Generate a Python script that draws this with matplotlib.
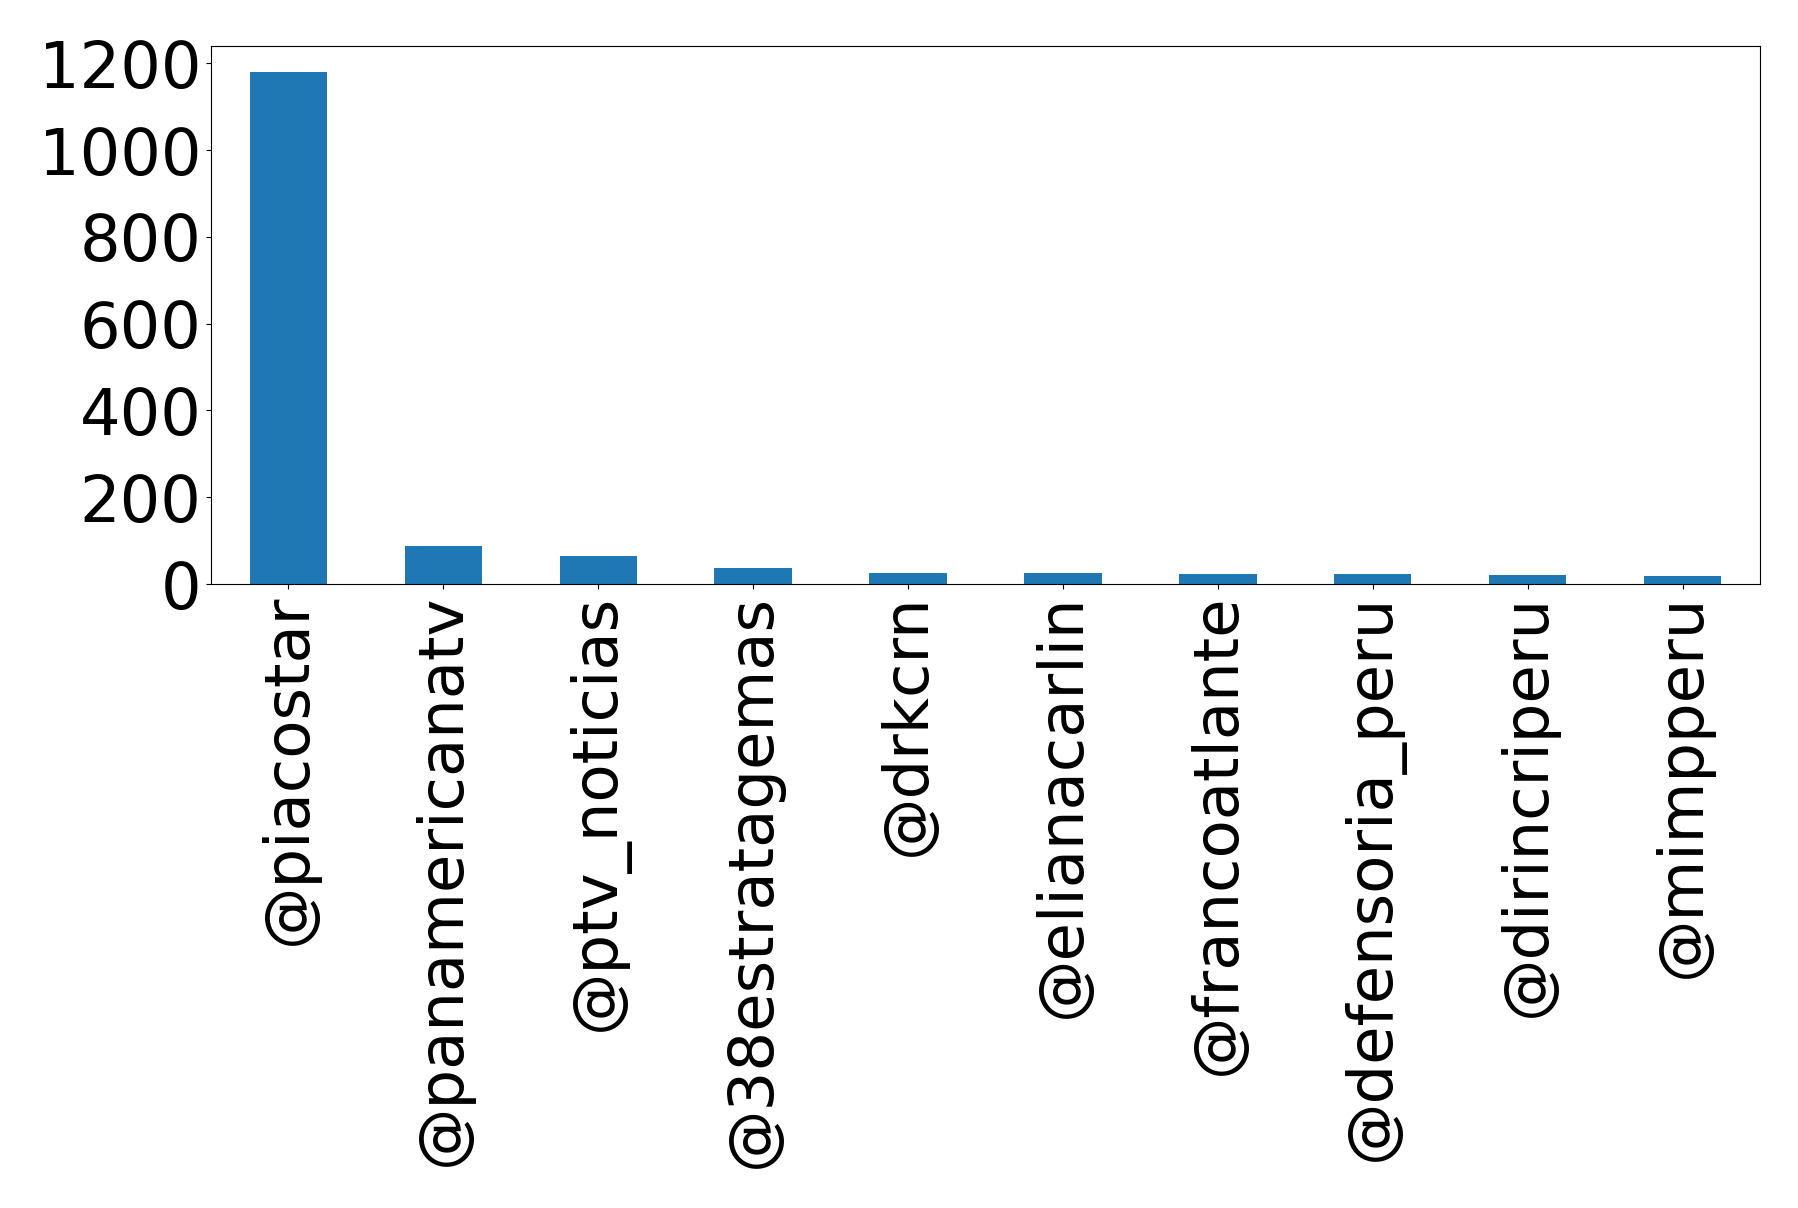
import matplotlib
matplotlib.use('Agg')
import matplotlib.pyplot as plt
import numpy as np

# top mentioned accounts
accounts = ['@piacostar', '@panamericanatv', '@ptv_noticias', '@38estratagemas',
            '@drkcrn', '@elianacarlin', '@francoatlante', '@defensoria_peru',
            '@dirincriperu', '@mimpperu']
counts = [1181, 87, 64, 37, 25, 25, 23, 23, 21, 19]
yticks = [0, 200, 400, 600, 800, 1000, 1200]

fig = plt.figure(figsize=(17.98, 12.08), dpi=100)
ax = fig.add_axes([211 / 1798, 1 - 584 / 1208, (1760 - 211) / 1798, (584 - 46) / 1208])

x = np.arange(len(accounts))
ax.bar(x, counts, width=0.5, color='#1f77b4')
ax.set_xlim(-0.5, len(accounts) - 0.5)
ax.set_ylim(0, max(counts) * 1.05)
ax.set_xticks(x)
ax.set_xticklabels(accounts, rotation=90, fontsize=45)
ax.set_yticks(yticks)
ax.tick_params(axis='y', labelsize=46)

fig.savefig('out.png', dpi=100)
